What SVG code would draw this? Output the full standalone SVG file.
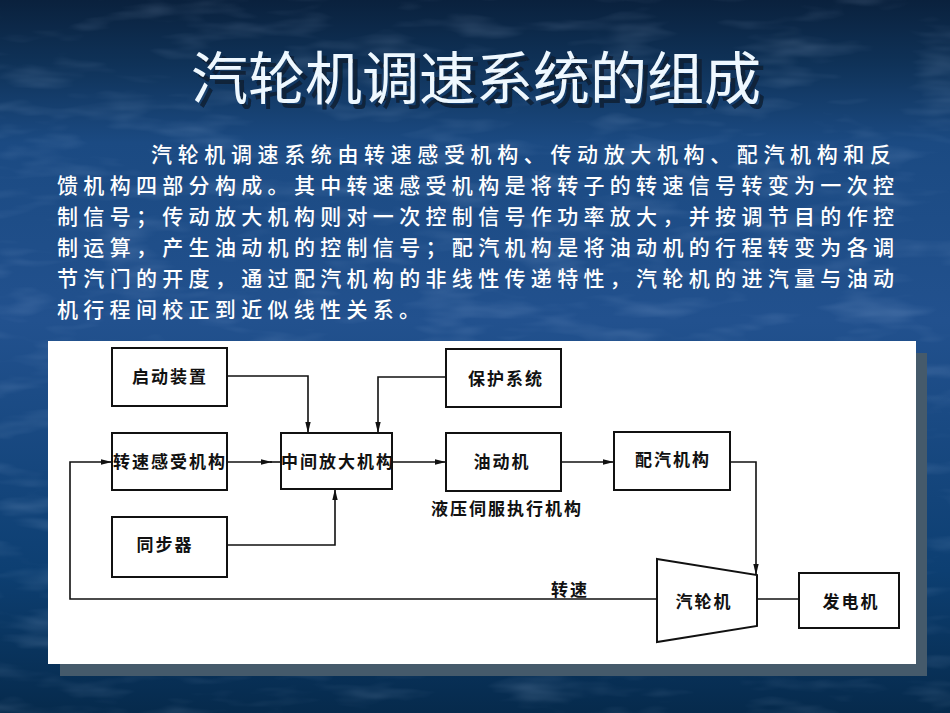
<svg xmlns="http://www.w3.org/2000/svg" width="950" height="713" viewBox="0 0 950 713">
<style>
.body{font-family:"Noto Sans CJK SC","Noto Sans",sans-serif;font-size:21px;font-weight:500;fill:#ffffff}
.title{font-family:"Noto Sans CJK SC","Noto Sans",sans-serif;font-size:57px;text-anchor:middle}
.box{fill:#ffffff;stroke:#111;stroke-width:2}
.lbl{font-family:"Noto Sans CJK SC","Noto Sans",sans-serif;font-size:17px;font-weight:bold;fill:#111;text-anchor:middle;letter-spacing:2px}
.ln{fill:none;stroke:#111;stroke-width:1.6}
</style>
<defs>
<linearGradient id="bg" x1="0" y1="0" x2="0" y2="1">
<stop offset="0" stop-color="#0a213d"/>
<stop offset="0.09" stop-color="#0f3258"/>
<stop offset="0.2" stop-color="#1b4a82"/>
<stop offset="0.45" stop-color="#22518e"/>
<stop offset="0.8" stop-color="#0d3f72"/>
<stop offset="1" stop-color="#062a4c"/>
</linearGradient>
<filter id="noise" x="0" y="0" width="100%" height="100%">
<feTurbulence type="fractalNoise" baseFrequency="0.012 0.05" numOctaves="3" seed="4"/>
<feColorMatrix type="matrix" values="0 0 0 0 0.6  0 0 0 0 0.75  0 0 0 0 1  0 0 0 1.2 -0.6"/>
</filter>
<filter id="tshadow" x="-5%" y="-20%" width="115%" height="150%">
<feOffset in="SourceAlpha" dx="5" dy="5" result="o"/>
<feFlood flood-color="#0b1c33" flood-opacity="0.85"/>
<feComposite in2="o" operator="in" result="s"/>
<feMerge><feMergeNode in="s"/><feMergeNode in="SourceGraphic"/></feMerge>
</filter>
<marker id="ah" markerUnits="userSpaceOnUse" markerWidth="12" markerHeight="7" refX="11" refY="3.5" orient="auto">
<path d="M0,0.8 L11,3.5 L0,6.2 z" fill="#111"/>
</marker>
</defs>
<rect width="950" height="713" fill="url(#bg)"/>
<rect width="950" height="713" filter="url(#noise)" opacity="0.3"/>

<g id="title">
<text class="title" x="476" y="99" fill="#eef8ff" filter="url(#tshadow)">汽轮机调速系统的组成</text>
</g>

<g id="paragraph">
<text class="body" x="151" y="162" textLength="740" lengthAdjust="spacing">汽轮机调速系统由转速感受机构、传动放大机构、配汽机构和反</text>
<text class="body" x="57" y="193" textLength="837" lengthAdjust="spacing">馈机构四部分构成。其中转速感受机构是将转子的转速信号转变为一次控</text>
<text class="body" x="57" y="224" textLength="837" lengthAdjust="spacing">制信号；传动放大机构则对一次控制信号作功率放大，并按调节目的作控</text>
<text class="body" x="57" y="255" textLength="837" lengthAdjust="spacing">制运算，产生油动机的控制信号；配汽机构是将油动机的行程转变为各调</text>
<text class="body" x="57" y="286" textLength="837" lengthAdjust="spacing">节汽门的开度，通过配汽机构的非线性传递特性，汽轮机的进汽量与油动</text>
<text class="body" x="57" y="317" textLength="363" lengthAdjust="spacing">机行程间校正到近似线性关系。</text>
</g>

<g id="panel">
<rect x="60" y="353" width="867" height="323" fill="#455a6b"/>
<rect x="48" y="341" width="868" height="323" fill="#ffffff"/>
</g>

<g id="connectors">
<path class="ln" d="M227,376 H308 V433" marker-end="url(#ah)"/>
<path class="ln" d="M446,377 H378 V433" marker-end="url(#ah)"/>
<path class="ln" d="M227,462 H272" marker-end="url(#ah)"/>
<path class="ln" d="M270,462 H281"/>
<path class="ln" d="M227,545 H335 V489" marker-end="url(#ah)"/>
<path class="ln" d="M392,462 H446" marker-end="url(#ah)"/>
<path class="ln" d="M561,462 H614" marker-end="url(#ah)"/>
<path class="ln" d="M730,462 H756 V575" marker-end="url(#ah)"/>
<path class="ln" d="M757,599 H799"/>
<path class="ln" d="M657,599 H70 V462 H112" marker-end="url(#ah)"/>
<text class="lbl" x="570" y="596">转速</text>
</g>

<g id="node-qidong">
<rect class="box" x="112" y="348" width="115" height="58"/>
<text class="lbl" x="170" y="383">启动装置</text>
</g>
<g id="node-zhuansu">
<rect class="box" x="112" y="433" width="115" height="57"/>
<text class="lbl" x="170" y="468">转速感受机构</text>
</g>
<g id="node-tongbu">
<rect class="box" x="112" y="517" width="115" height="60"/>
<text class="lbl" x="165" y="551">同步器</text>
</g>
<g id="node-zhongjian">
<rect class="box" x="281" y="433" width="111" height="56"/>
<text class="lbl" x="338" y="468">中间放大机构</text>
</g>
<g id="node-baohu">
<rect class="box" x="446" y="349" width="115" height="58"/>
<text class="lbl" x="506" y="385">保护系统</text>
</g>
<g id="node-youdong">
<rect class="box" x="446" y="433" width="115" height="58"/>
<text class="lbl" x="502" y="468">油动机</text>
<text class="lbl" x="507" y="515">液压伺服执行机构</text>
</g>
<g id="node-peiqi">
<rect class="box" x="614" y="432" width="116" height="58"/>
<text class="lbl" x="673" y="466">配汽机构</text>
</g>
<g id="node-qilunji">
<polygon class="box" points="657,559 757,575 757,626 657,642"/>
<text class="lbl" x="704" y="608">汽轮机</text>
</g>
<g id="node-fadianji">
<rect class="box" x="799" y="573" width="100" height="55"/>
<text class="lbl" x="851" y="608">发电机</text>
</g>
</svg>
